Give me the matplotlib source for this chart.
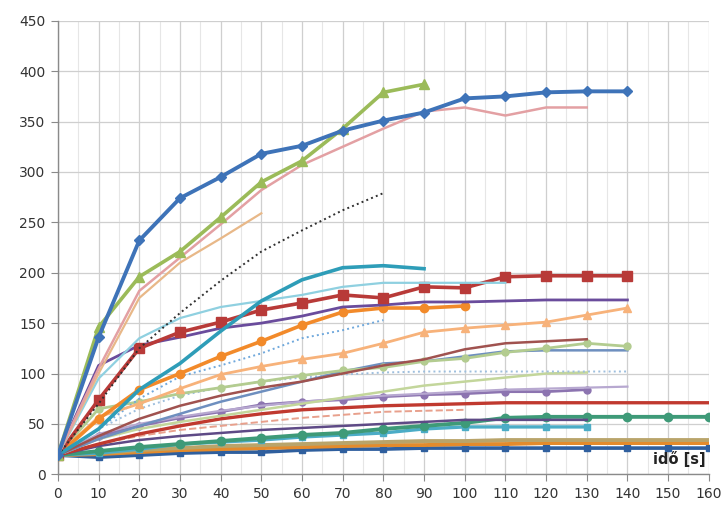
import matplotlib
matplotlib.use("Agg")
import matplotlib.pyplot as plt
from matplotlib.ticker import MultipleLocator

# time axis [s]
t = [0, 10, 20, 30, 40, 50, 60, 70, 80, 90, 100, 110, 120, 130, 140, 150, 160]

# series values, one list per curve, starting at t=0
s_blue = [19, 136, 232, 274, 295, 318, 326, 341, 351, 359, 373, 375, 379, 380, 380]
s_green = [19, 146, 196, 221, 255, 290, 311, 343, 379, 387]
s_pink = [19, 105, 182, 215, 248, 282, 307, 325, 343, 360, 364, 356, 364, 364]
s_tan = [19, 100, 175, 210, 234, 259]
s_dotblack = [19, 70, 125, 160, 192, 221, 242, 262, 279]
s_teal = [19, 45, 84, 110, 142, 172, 193, 205, 207, 204]
s_cyan = [19, 95, 135, 155, 166, 172, 178, 186, 190, 190, 190, 190]
s_red = [19, 74, 125, 141, 151, 163, 170, 178, 175, 186, 185, 196, 197, 197, 197]
s_purple = [19, 108, 128, 136, 145, 150, 157, 166, 168, 171, 171, 172, 173, 173, 173]
s_orange = [19, 55, 84, 100, 117, 132, 148, 161, 165, 165, 167]
s_peach = [19, 57, 70, 85, 99, 107, 114, 120, 130, 141, 145, 148, 151, 158, 165]
s_dotblue = [19, 45, 75, 97, 108, 120, 135, 143, 153]
s_brown = [19, 38, 55, 68, 78, 86, 92, 100, 108, 114, 124, 130, 132, 134]
s_lgreen = [19, 65, 72, 80, 86, 92, 98, 103, 106, 112, 115, 121, 125, 130, 127]
s_steel = [19, 35, 48, 60, 72, 82, 92, 102, 110, 112, 117, 122, 123, 123, 123]
s_dotlight = [19, 45, 65, 78, 86, 92, 96, 99, 101, 102, 102, 102, 102, 102, 102]
s_olive = [19, 35, 45, 52, 58, 64, 70, 76, 82, 88, 92, 96, 100, 101]
s_lavender = [19, 40, 50, 57, 63, 68, 72, 75, 78, 80, 82, 84, 85, 86, 87]
s_violet = [19, 38, 48, 56, 62, 69, 72, 74, 77, 79, 80, 82, 82, 84]
s_red2 = [19, 30, 40, 48, 55, 60, 64, 66, 68, 69, 70, 71, 71, 71, 71, 71, 71]
s_salmon = [19, 30, 38, 44, 48, 52, 56, 59, 62, 63, 64]
s_dpurple = [19, 28, 34, 38, 41, 44, 46, 48, 50, 52, 54, 54, 54, 54]
s_seagreen = [19, 23, 27, 30, 33, 36, 39, 41, 45, 48, 51, 56, 57, 57, 57, 57, 57]
s_aqua = [19, 21, 25, 30, 32, 34, 37, 39, 41, 45, 47, 47, 47, 47]
s_khaki = [19, 21, 24, 26, 28, 29, 30, 31, 32, 33, 33, 34, 34, 34, 34, 34, 34]
s_amber = [19, 20, 22, 24, 25, 26, 27, 28, 29, 29, 30, 30, 31, 31, 31, 31, 31]
s_navy = [19, 17, 19, 21, 22, 22, 24, 25, 25, 26, 26, 26, 26, 26, 26, 26, 26]

x_ticks = list(range(0, 161, 10))
y_ticks = list(range(0, 451, 50))
x_label = "idő [s]"

# (values, color, linewidth, linestyle, marker, markersize)
series = [
    (s_navy, "#2F5F9E", 2.6, "-", "s", 5),
    (s_amber, "#E38B2C", 2.8, "-", None, 0),
    (s_khaki, "#B9A46A", 2.8, "-", None, 0),
    (s_aqua, "#4BACC6", 2.4, "-", "s", 5),
    (s_seagreen, "#3E9A78", 2.8, "-", "o", 6),
    (s_dpurple, "#5E4A86", 1.8, "-", None, 0),
    (s_salmon, "#E8A08C", 1.4, "--", None, 0),
    (s_red2, "#C0392F", 2.4, "-", None, 0),
    (s_violet, "#8C74B0", 2.0, "-", "o", 5),
    (s_lavender, "#B7A8D0", 1.6, "-", None, 0),
    (s_olive, "#C3D69B", 1.8, "-", None, 0),
    (s_dotlight, "#9DBEDD", 1.4, ":", None, 0),
    (s_steel, "#6E8FBF", 1.8, "-", None, 0),
    (s_lgreen, "#B3CC90", 2.0, "-", "o", 5),
    (s_brown, "#A0524F", 1.8, "-", None, 0),
    (s_dotblue, "#6FA8DC", 1.4, ":", None, 0),
    (s_peach, "#F7B27A", 2.0, "-", "^", 6),
    (s_orange, "#F28A2A", 2.6, "-", "o", 6),
    (s_purple, "#6A4C9C", 2.0, "-", None, 0),
    (s_red, "#B83A38", 2.6, "-", "s", 7),
    (s_cyan, "#8FD0E0", 1.6, "-", None, 0),
    (s_teal, "#2E9DB8", 2.6, "-", None, 0),
    (s_dotblack, "#303030", 1.4, ":", None, 0),
    (s_tan, "#E8B888", 1.6, "-", None, 0),
    (s_pink, "#E3A0A3", 1.8, "-", None, 0),
    (s_green, "#9BBB59", 2.6, "-", "^", 7),
    (s_blue, "#3E73B8", 2.8, "-", "D", 5),
]

fig = plt.figure(figsize=(7.24, 5.05), dpi=100)
ax = fig.add_axes([0.080, 0.0608, 0.899, 0.898])

for i, (vals, col, lw, ls, mk, ms) in enumerate(series):
    ax.plot(t[:len(vals)], vals, color=col, lw=lw, ls=ls,
            marker=mk if mk else None, markersize=ms,
            markerfacecolor=col, markeredgecolor=col, zorder=3 + i * 0.01)

ax.set_xlim(0, 160)
ax.set_ylim(0, 450)
ax.set_xticks(x_ticks)
ax.set_yticks(y_ticks)
ax.xaxis.set_minor_locator(MultipleLocator(5))
ax.grid(which="major", axis="both", color="#CFCFCF", lw=0.9, zorder=0)
ax.grid(which="minor", axis="x", color="#E6E6E6", lw=0.8, zorder=0)
ax.set_axisbelow(True)

for side in ("top", "right"):
    ax.spines[side].set_visible(False)
for side in ("left", "bottom"):
    ax.spines[side].set_color("#8A8A8A")
    ax.spines[side].set_linewidth(1.0)

ax.tick_params(axis="both", which="major", direction="out", length=5,
               color="#8A8A8A", labelsize=10, labelcolor="#333333", pad=4)
ax.tick_params(axis="x", which="minor", length=0)

ax.text(0.995, 0.015, x_label, transform=ax.transAxes, ha="right", va="bottom",
        fontsize=10.5, fontweight="bold", color="#222222", zorder=10)

fig.savefig("out.png", dpi=100)
